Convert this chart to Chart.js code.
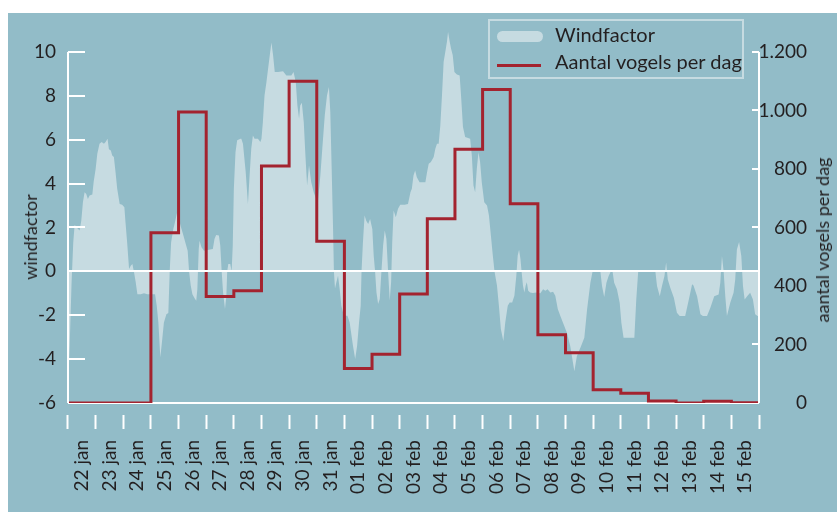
<!DOCTYPE html>
<html>
<head>
<meta charset="utf-8">
<script src="https://cdn.jsdelivr.net/npm/chart.js@4.4.1/dist/chart.umd.min.js"></script>
<style>
  body { margin: 0; background: #fff; font-family: Lato, sans-serif; }
  #wrap { position: absolute; left: 8px; top: 13px; width: 829px; height: 499px; background: #92bcc8; overflow: hidden; }
  #chart { position: absolute; left: 0; top: 0; }
  .axis-title { position: absolute; font-size: 18px; color: #231f20; white-space: nowrap; transform: translate(-50%, -50%) rotate(-90deg); }
  #legend { position: absolute; left: 480px; top: 6px; width: 256px; height: 60px; box-sizing: border-box; border: 2px solid #c6dbe1; }
  #legend .sym { position: absolute; left: 7px; }
  #legend .txt { position: absolute; left: 65px; font-size: 20px; line-height: 20px; color: #231f20; white-space: nowrap; }
</style>
</head>
<body>
<div id="wrap">
  <canvas id="chart" width="829" height="499"></canvas>
  <div class="axis-title" style="left:22px; top:224px">windfactor</div>
  <div class="axis-title" style="left:814px; top:227px">aantal vogels per dag</div>
  <div id="legend"></div>
</div>
<script>
// day labels under the x axis
const dayLabels = ['22 jan', '23 jan', '24 jan', '25 jan', '26 jan', '27 jan', '28 jan', '29 jan', '30 jan', '31 jan',
    '01 feb', '02 feb', '03 feb', '04 feb', '05 feb', '06 feb', '07 feb', '08 feb', '09 feb', '10 feb',
    '11 feb', '12 feb', '13 feb', '14 feb', '15 feb'];

// birds counted per day (right axis)
const birdCounts = [0, 0, 0, 582, 995, 364, 384, 810, 1100, 553,
    118, 167, 373, 630, 867, 1072, 681, 233, 172, 45,
    33, 7, 0, 6, 1];

// wind factor trace: position in days since 22 jan 00:00, and value (left axis)
const windDays = [0.00, 0.06, 0.13, 0.19, 0.24, 0.34, 0.42, 0.48, 0.54, 0.60, 0.66, 0.72, 0.78, 0.88, 0.93,
    1.00, 1.06, 1.14, 1.22, 1.30, 1.36, 1.43, 1.48, 1.55, 1.60, 1.66, 1.72, 1.78, 1.87, 1.96,
    2.04, 2.08, 2.14, 2.21, 2.27, 2.33, 2.39, 2.45, 2.51, 2.63, 2.75, 2.87,
    3.05, 3.15, 3.21, 3.27, 3.34, 3.41, 3.47, 3.56, 3.63, 3.68, 3.73, 3.81, 3.87, 3.94,
    4.00, 4.07, 4.16, 4.26, 4.33, 4.38, 4.44, 4.50, 4.58, 4.64, 4.68, 4.73, 4.76, 4.83, 4.92,
    5.10, 5.24, 5.30, 5.36, 5.46, 5.51, 5.56, 5.61, 5.68, 5.73, 5.76, 5.80, 5.87, 5.92, 5.96,
    6.00, 6.06, 6.12, 6.24, 6.27, 6.33, 6.43, 6.51, 6.57, 6.63, 6.69, 6.75, 6.87, 6.96,
    7.00, 7.05, 7.11, 7.18, 7.24, 7.30, 7.36, 7.42, 7.48, 7.60, 7.78, 7.90,
    8.08, 8.16, 8.24, 8.30, 8.36, 8.40, 8.46, 8.53, 8.59, 8.65, 8.72, 8.80, 8.89, 8.98,
    9.04, 9.13, 9.20, 9.29, 9.37, 9.44, 9.49, 9.54, 9.59, 9.62, 9.66, 9.71, 9.77, 9.83, 9.89, 9.95,
    10.01, 10.11, 10.19, 10.31, 10.39, 10.46, 10.53, 10.59, 10.62, 10.67, 10.73, 10.79, 10.86, 10.93,
    11.01, 11.06, 11.11, 11.16, 11.22, 11.28, 11.34, 11.40, 11.46, 11.52, 11.58, 11.64, 11.69, 11.73, 11.78, 11.86, 11.94,
    12.02, 12.18, 12.30, 12.39, 12.44, 12.50, 12.56, 12.62, 12.72, 12.93, 12.99,
    13.05, 13.13, 13.23, 13.29, 13.35, 13.41, 13.47, 13.53, 13.59, 13.65, 13.71, 13.75, 13.81, 13.86, 13.92, 13.98,
    14.07, 14.17, 14.22, 14.29, 14.37, 14.55, 14.61, 14.67, 14.73, 14.79, 14.85, 14.91, 14.97,
    15.06, 15.16, 15.23, 15.30, 15.37, 15.43, 15.52, 15.59, 15.66, 15.75, 15.82, 15.91, 15.98,
    16.07, 16.15, 16.22, 16.27, 16.32, 16.37, 16.41, 16.46, 16.51, 16.56, 16.60, 16.65, 16.72, 16.82, 16.94,
    17.09, 17.19, 17.27, 17.35, 17.45, 17.55, 17.63, 17.72, 17.81,
    18.05, 18.17, 18.32, 18.41, 18.56, 18.68, 18.78, 18.90, 18.98,
    19.26, 19.32, 19.40, 19.48, 19.56, 19.64, 19.70, 19.76, 19.86, 19.96,
    20.02, 20.10, 20.34, 20.49, 20.56, 20.63,
    21.25, 21.31, 21.41, 21.49, 21.58, 21.64, 21.70, 21.79, 21.92,
    22.03, 22.13, 22.33, 22.45, 22.58, 22.63, 22.76, 22.88, 22.97,
    23.12, 23.24, 23.38, 23.54, 23.60, 23.66, 23.72, 23.78, 23.84, 23.96,
    24.08, 24.14, 24.20, 24.28, 24.36, 24.42, 24.48, 24.57, 24.68, 24.78, 24.86, 24.95, 25.00];

const windValues = [-5.37, -3.40, -0.50, 1.32, 2.12, 1.96, 1.86, 2.31, 3.15, 3.61, 3.53, 3.30, 3.46, 3.50, 4.09,
    4.67, 5.36, 5.81, 5.89, 5.81, 5.89, 6.04, 5.56, 5.51, 5.28, 5.21, 4.52, 3.76, 3.07, 3.03,
    2.92, 2.24, 1.32, 0.11, 0.26, 0.33, -0.05, -0.50, -1.04, -1.04, -1.00, -1.04,
    -1.04, -1.04, -1.57, -2.33, -3.93, -3.09, -2.33, -1.95, -1.90, 0.00, 1.32, 1.93, 2.24, 2.65,
    2.47, 2.09, 1.70, 1.25, 0.94, 0.00, -0.65, -1.04, -1.23, -1.34, -0.81, 1.02, 1.40, 1.10, 0.94,
    0.99, 1.02, 1.48, 1.66, 1.63, 1.17, 0.00, -0.96, -1.72, -1.11, 0.00, 0.33, 0.33, 0.00, 1.17,
    3.76, 5.43, 5.97, 6.04, 6.04, 5.81, 4.52, 3.07, 4.37, 5.59, 6.19, 6.04, 6.04, 5.89,
    6.04, 6.80, 8.02, 8.63, 9.24, 9.85, 10.43, 9.85, 9.09, 9.09, 9.12, 8.93,
    8.93, 9.09, 8.63, 7.56, 6.96, 7.56, 7.69, 6.80, 5.28, 3.91, 4.82, 4.06, 3.61, 3.30,
    3.15, 4.37, 5.59, 7.11, 8.02, 8.40, 7.26, 4.67, 1.93, 0.00, -0.78, -0.50, -0.20, -0.81, -1.57, -1.87,
    -2.02, -2.02, -2.33, -3.39, -4.00, -3.39, -2.33, -1.57, 0.00, 1.32, 2.54, 2.31, 2.16, 2.39,
    1.93, 0.72, 0.00, -0.96, -1.49, -1.26, 0.00, 1.17, 1.86, 1.48, 0.00, -1.34, -0.50, 1.32, 2.77, 2.47, 2.85,
    3.03, 3.03, 3.07, 3.61, 3.76, 4.37, 4.60, 4.29, 4.06, 4.06, 4.52,
    4.90, 4.98, 5.21, 5.59, 5.81, 5.81, 6.65, 8.02, 9.54, 10.00, 10.46, 10.91, 10.46, 10.15, 9.85, 9.09,
    8.97, 8.93, 8.02, 6.58, 6.12, 6.04, 5.28, 3.91, 3.61, 4.67, 5.43, 4.98, 4.06,
    3.15, 3.00, 2.54, 1.63, 0.72, 0.00, -0.65, -1.57, -2.63, -3.17, -2.33, -1.57, -1.42,
    -1.42, -1.11, -0.20, 0.72, 0.99, 0.56, 0.00, -0.65, -0.96, -0.65, -0.50, -0.88, -0.96, -0.99, -0.96,
    -1.00, -0.81, -0.88, -0.81, -0.96, -0.93, -1.11, -1.72, -2.02,
    -2.80, -3.40, -4.55, -3.87, -3.41, -3.03, -1.74, -0.52, 0.00,
    0.00, -0.67, -1.17, -0.52, -0.21, 0.00, 0.00, -0.52, -0.82, -1.43,
    -2.34, -3.03, -3.03, -3.03, -1.28, 0.00,
    0.00, -0.67, -1.13, -0.67, -0.21, 0.40, -0.37, -0.75, -1.20,
    -1.89, -2.04, -2.04, -1.35, -0.59, -0.64, -1.13, -1.96, -2.04,
    -2.04, -1.66, -1.13, -1.05, -0.52, 0.70, 0.00, -1.13, -2.04, -1.43,
    -0.97, -0.37, 1.00, 1.34, 0.70, -0.67, -1.28, -1.13, -0.97, -1.28, -1.96, -2.04, -2.04];

const INK = '#231f20';
const WHITE = '#ffffff';
const NONE = 'rgba(0,0,0,0)';
const FILL = '#c6dbe1';
const RED = '#a3232f';

Chart.defaults.font.family = 'Lato';

// steps: each day's count is held until the start of the next day
const birdPoints = birdCounts.map((v, i) => ({ x: i, y: v }));
birdPoints.push({ x: birdCounts.length, y: birdCounts[birdCounts.length - 1] });

const windPoints = windDays.map((d, i) => ({ x: d, y: windValues[i] }));

function thousands(v) {
    if (v < 1000) return String(v);
    return Math.floor(v / 1000) + '.' + String(v % 1000).padStart(3, '0');
}

// the y axes must not push the plot down with their label padding
function fixYAxis(width) {
    return s => {
        s.width = width;
        s.paddingTop = 0;
        s.paddingBottom = 0;
    };
}

const windSet = {
    label: 'Windfactor',
    data: windPoints,
    xAxisID: 'x',
    yAxisID: 'y',
    backgroundColor: FILL,
    borderColor: NONE,
    borderWidth: 1,
    fill: 'origin',
    pointRadius: 0,
    tension: 0,
    order: 2
};

const birdSet = {
    label: 'Aantal vogels per dag',
    data: birdPoints,
    xAxisID: 'x',
    yAxisID: 'yBirds',
    borderColor: RED,
    borderWidth: 3,
    stepped: 'before',
    fill: false,
    pointRadius: 0,
    order: 1
};

const chart = new Chart(document.getElementById('chart'), {
    type: 'line',
    data: { datasets: [birdSet, windSet] },
    options: {
        responsive: false,
        animation: false,
        events: [],
        layout: { padding: { top: 17, right: 30, bottom: 0, left: 0 } },
        plugins: {
            legend: { display: false },
            tooltip: { enabled: false }
        },
        scales: {
            // data axis (days); only its two edge grid lines are shown, as the vertical axis lines
            x: {
                type: 'linear',
                position: 'bottom',
                min: 0,
                max: 25,
                ticks: { display: false, stepSize: 25 },
                grid: {
                    z: 1,
                    drawTicks: false,
                    lineWidth: 2,
                    color: c => (c.tick && (c.tick.value === 0 || c.tick.value === 25)) ? WHITE : NONE
                },
                border: { display: false, dash: [0, 22, 2000] },
                afterFit: s => { s.height = 0; }
            },
            // label axis with the day names between the tick marks
            days: {
                type: 'category',
                position: 'bottom',
                labels: dayLabels,
                offset: true,
                grid: {
                    offset: true,
                    drawOnChartArea: false,
                    drawTicks: true,
                    tickLength: 26,
                    tickWidth: 2,
                    tickColor: WHITE,
                    tickBorderDash: [14, 12],
                    tickBorderDashOffset: 14
                },
                border: { display: false },
                ticks: {
                    color: INK,
                    font: { size: 19 },
                    minRotation: 90,
                    maxRotation: 90,
                    autoSkip: false,
                    padding: 11
                },
                afterFit: s => { s.height = 109; }
            },
            y: {
                position: 'left',
                min: -6,
                max: 11,
                ticks: { stepSize: 2, color: INK, font: { size: 19 }, padding: 12 },
                afterBuildTicks: s => { s.ticks = s.ticks.filter(t => t.value <= 10); },
                grid: {
                    z: 1,
                    drawTicks: false,
                    lineWidth: 2,
                    color: c => (c.tick && c.tick.value === -6) ? NONE : WHITE
                },
                border: {
                    display: false,
                    dash: c => (c.tick && c.tick.value === 0) ? [] : [17, 2000]
                },
                afterFit: fixYAxis(60)
            },
            yBirds: {
                position: 'right',
                min: 0,
                max: 1275,
                ticks: {
                    stepSize: 200,
                    color: INK,
                    font: { size: 19 },
                    crossAlign: 'far',
                    callback: v => thousands(v)
                },
                afterBuildTicks: s => { s.ticks = s.ticks.filter(t => t.value <= 1200); },
                grid: {
                    drawTicks: false,
                    lineWidth: 2,
                    color: WHITE
                },
                border: {
                    display: false,
                    dash: c => {
                        if (!c.tick || c.tick.value === 0) return [];
                        const w = c.chart.chartArea ? c.chart.chartArea.width : 691;
                        return [0, w - 7, 7];
                    }
                },
                afterFit: fixYAxis(48)
            }
        }
    }
});

// legend drawn as html above the plot, like the original
const legend = document.getElementById('legend');
[windSet, birdSet].forEach((ds, i) => {
    const sym = document.createElement('div');
    sym.className = 'sym';
    if (ds.fill) {
        sym.style.cssText = 'top:10px; width:46px; height:11px; border-radius:6px; background:' + ds.backgroundColor;
    } else {
        sym.style.cssText = 'top:43px; width:44px; height:3px; background:' + ds.borderColor;
    }
    const txt = document.createElement('div');
    txt.className = 'txt';
    txt.style.top = (i === 0 ? 3 : 30) + 'px';
    txt.textContent = ds.label;
    legend.appendChild(sym);
    legend.appendChild(txt);
});
</script>
</body>
</html>
